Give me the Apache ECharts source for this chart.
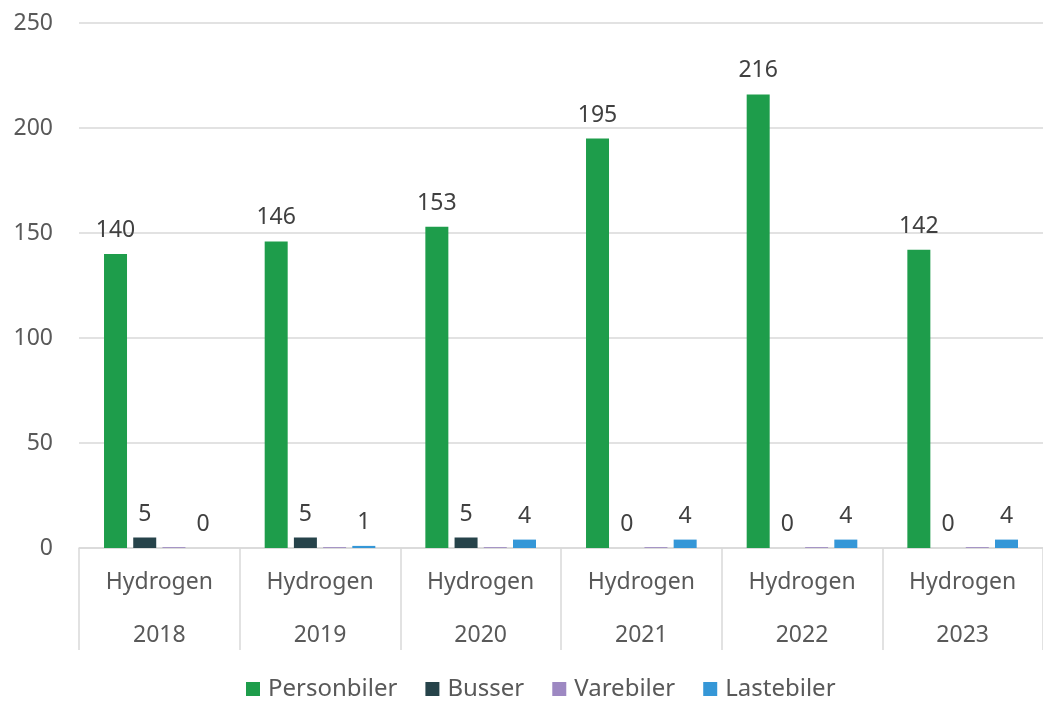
<!DOCTYPE html>
<html lang="no">
<head>
  <meta charset="UTF-8">
  <title>Hydrogen</title>
  <script src="https://cdn.jsdelivr.net/npm/echarts@6/dist/echarts.min.js"></script>
  <style>
    html, body { margin: 0; padding: 0; background: #fff; }
  </style>
</head>
<body>
  <div id="container" style="width: 1043px; height: 701px;"></div>
  <script>
    // data
    var fuels = ['Hydrogen', 'Hydrogen', 'Hydrogen', 'Hydrogen', 'Hydrogen', 'Hydrogen'];
    var years = ['2018', '2019', '2020', '2021', '2022', '2023'];
    var personbiler = [140, 146, 153, 195, 216, 142];
    var busser = [5, 5, 5, 0, 0, 0];
    var varebiler = [0.4, 0.4, 0.4, 0.4, 0.4, 0.4];
    var lastebiler = [0, 1, 4, 4, 4, 4];

    var font = '"Noto Sans", sans-serif';
    var textColor = '#595959';
    var lineColor = '#d9d9d9';

    var myChart = echarts.init(document.getElementById('container'));

    function bar(name, data, color, showLabel) {
      return {
        name: name,
        type: 'bar',
        data: data,
        barWidth: 23,
        barGap: '27%',
        itemStyle: { color: color },
        label: {
          show: showLabel,
          position: 'top',
          distance: 12,
          color: '#404040',
          fontFamily: font,
          fontSize: 23
        }
      };
    }

    myChart.setOption({
      animation: false,
      backgroundColor: '#fff',
      textStyle: { fontFamily: font },
      grid: { left: 79, top: 23, width: 969, bottom: 153, containLabel: false },
      legend: {
        bottom: -5,
        left: 241,
        itemWidth: 14,
        itemHeight: 14,
        itemGap: 28,
        icon: 'rect',
        textStyle: { color: textColor, fontSize: 24, fontFamily: font, padding: [0, 0, 0, 3] },
        data: ['Personbiler', 'Busser', 'Varebiler', 'Lastebiler']
      },
      xAxis: [
        {
          type: 'category',
          data: fuels,
          position: 'bottom',
          axisLine: { lineStyle: { color: lineColor, width: 1.5 } },
          axisTick: { show: true, length: 102, lineStyle: { color: lineColor, width: 1.5 } },
          axisLabel: { margin: 23, color: textColor, fontSize: 23, fontFamily: font }
        },
        {
          type: 'category',
          data: years,
          position: 'bottom',
          axisLine: { show: false },
          axisTick: { show: false },
          axisLabel: { margin: 76, color: textColor, fontSize: 23, fontFamily: font }
        }
      ],
      yAxis: {
        type: 'value',
        min: 0,
        max: 250,
        interval: 50,
        axisLine: { show: false },
        axisTick: { show: false },
        splitLine: { lineStyle: { color: lineColor, width: 1.5 } },
        axisLabel: { margin: 26, color: textColor, fontSize: 23, fontFamily: font }
      },
      series: [
        bar('Personbiler', personbiler, '#1e9d4b', true),
        bar('Busser', busser, '#26434a', true),
        bar('Varebiler', varebiler, '#9d88c2', false),
        bar('Lastebiler', lastebiler, '#3597d7', true)
      ]
    });
  </script>
</body>
</html>
